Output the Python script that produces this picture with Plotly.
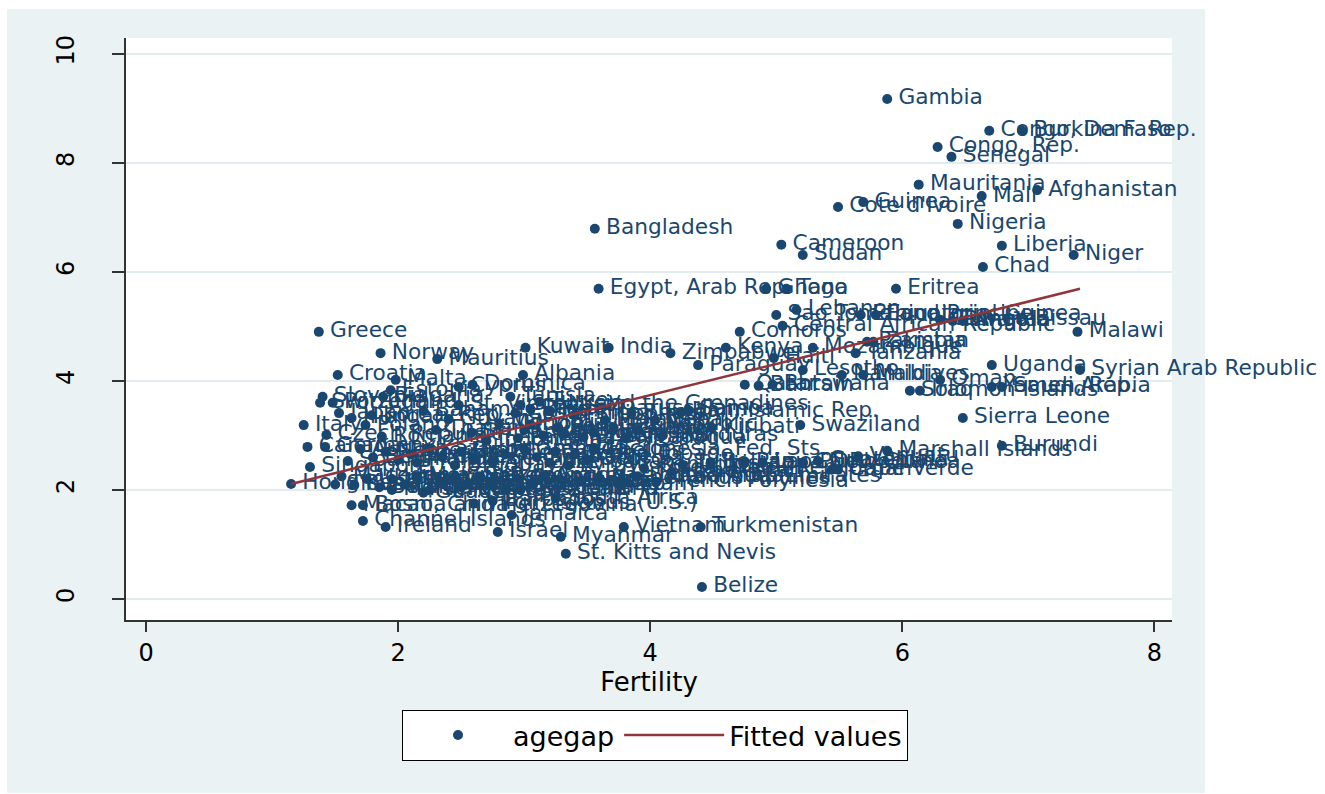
import plotly.graph_objects as go

# Countries: total fertility rate vs. spousal age gap (agegap)
countries = [
    "Gambia", "Congo, Dem. Rep.", "Burkina Faso", "Congo, Rep.", "Senegal",
    "Mauritania", "Mali", "Afghanistan", "Guinea", "Cote d'Ivoire",
    "Nigeria", "Bangladesh", "Cameroon", "Sudan", "Liberia",
    "Niger", "Chad", "Egypt, Arab Rep.", "Ghana", "Togo",
    "Eritrea", "Lebanon", "Sao Tome and Principe", "Ethiopia", "Equatorial Guinea",
    "Guinea-Bissau", "Rwanda", "Angola", "Central African Republic", "Comoros",
    "Malawi", "Greece", "Norway", "Mauritius", "Kuwait",
    "India", "Zimbabwe", "Kenya", "Mozambique", "Pakistan",
    "Zambia", "Tanzania", "Haiti", "Paraguay", "Lesotho",
    "Uganda", "Syrian Arab Republic", "Croatia", "Albania", "Malta",
    "Namibia", "Maldives", "Oman", "Qatar", "Bahrain",
    "Botswana", "Yemen, Rep.", "Saudi Arabia", "Solomon Islands", "Iraq",
    "Sierra Leone", "Swaziland", "Burundi", "Marshall Islands", "Vanuatu",
    "Papua New Guinea", "Lao PDR", "Cambodia", "Guatemala", "Jordan",
    "Cape Verde", "Uzbekistan", "Tajikistan", "Bolivia", "Kiribati",
    "Iran, Islamic Rep.", "Nepal", "Samoa", "Ecuador", "El Salvador",
    "Malaysia", "Bhutan", "Philippines", "Fiji", "Costa Rica",
    "Tunisia", "St. Lucia", "Turkey", "Brunei Darussalam", "Dominica",
    "Cyprus", "St. Vincent and the Grenadines", "Slovenia", "Switzerland", "Portugal",
    "Bulgaria", "Estonia", "Japan", "Hungary", "Korea, Rep.",
    "Guyana", "Bahamas, The", "Italy", "Czech Republic", "Poland",
    "Romania", "Thailand", "Sri Lanka", "Colombia", "Peru",
    "Venezuela, RB", "Panama", "Dominican Republic", "Morocco", "Algeria",
    "Mongolia", "Indonesia", "Libya", "Honduras", "Nicaragua",
    "Canada", "Germany", "Spain", "Austria", "Belgium",
    "Netherlands", "Finland", "Denmark", "France", "Kazakhstan",
    "Chile", "Argentina", "Brazil", "Uruguay", "Trinidad and Tobago",
    "Grenada", "Suriname", "Seychelles", "Tonga", "Micronesia, Fed. Sts.",
    "Armenia", "Azerbaijan", "Kyrgyz Republic", "Georgia", "Singapore",
    "Macedonia, FYR", "Russian Federation", "Ukraine", "Belarus", "Lithuania",
    "Latvia", "Moldova", "Serbia", "United Kingdom", "Sweden",
    "Iceland", "Luxembourg", "United States", "New Zealand", "Cuba",
    "Puerto Rico", "Antigua and Barbuda", "Aruba", "Mexico", "Netherlands Antilles",
    "Guam", "United Arab Emirates", "French Polynesia", "Korea, Dem. Rep.", "Hong Kong, China",
    "Slovak Republic", "Australia", "Barbados", "Martinique", "Guadeloupe",
    "New Caledonia", "Virgin Islands (U.S.)", "South Africa", "Macao, China", "Bosnia and Herzegovina",
    "Channel Islands", "Ireland", "Jamaica", "Israel", "Myanmar",
    "Vietnam", "Turkmenistan", "St. Kitts and Nevis", "Belize",
]

fertility = [
    5.88, 6.69, 6.95, 6.28, 6.39,
    6.13, 6.63, 7.07, 5.69, 5.49,
    6.44, 3.56, 5.04, 5.21, 6.79,
    7.36, 6.64, 3.59, 4.92, 5.08,
    5.95, 5.16, 5.00, 5.67, 5.79,
    6.30, 6.40, 6.48, 5.05, 4.71,
    7.39, 1.37, 1.86, 2.31, 3.01,
    3.67, 4.16, 4.60, 5.29, 5.72,
    5.77, 5.63, 4.98, 4.38, 5.21,
    6.71, 7.41, 1.52, 2.99, 1.98,
    5.52, 5.69, 6.30, 4.75, 4.86,
    4.97, 6.71, 6.79, 6.06, 6.14,
    6.48, 5.19, 6.79, 5.88, 5.65,
    4.75, 4.89, 5.21, 5.33, 5.44,
    5.49, 4.17, 4.26, 4.48, 4.49,
    4.24, 4.04, 4.30, 3.71, 3.47,
    3.64, 3.85, 3.40, 3.20, 2.93,
    2.89, 2.97, 3.12, 3.05, 2.59,
    2.48, 2.48, 1.40, 1.38, 1.48,
    1.88, 1.94, 1.53, 1.63, 1.79,
    2.40, 2.20, 1.25, 1.43, 1.74,
    1.87, 2.30, 2.58, 3.00, 3.27,
    3.15, 2.95, 3.05, 3.32, 3.55,
    2.80, 2.70, 3.90, 4.10, 3.80,
    1.28, 1.42, 1.60, 1.70, 1.80,
    1.90, 2.00, 2.10, 2.15, 2.25,
    2.35, 2.60, 2.50, 2.45, 2.85,
    3.00, 3.10, 3.25, 3.40, 3.55,
    2.75, 3.20, 3.35, 3.50, 1.30,
    1.55, 1.65, 1.75, 1.85, 1.95,
    2.05, 2.15, 2.25, 2.35, 2.45,
    2.55, 2.65, 2.75, 2.85, 2.95,
    3.05, 3.15, 3.45, 3.30, 3.60,
    3.75, 3.90, 4.05, 3.95, 1.15,
    1.50, 2.97, 2.75, 1.95, 2.20,
    2.50, 2.60, 3.25, 1.63, 1.72,
    1.72, 1.90, 2.90, 2.79, 3.29,
    3.79, 4.40, 3.33, 4.41,
]

agegap = [
    9.17, 8.59, 8.59, 8.29, 8.11,
    7.60, 7.39, 7.50, 7.28, 7.19,
    6.88, 6.79, 6.50, 6.31, 6.48,
    6.31, 6.09, 5.69, 5.69, 5.69,
    5.69, 5.30, 5.21, 5.21, 5.21,
    5.12, 5.10, 5.10, 5.01, 4.90,
    4.90, 4.90, 4.51, 4.40, 4.61,
    4.61, 4.51, 4.61, 4.61, 4.72,
    4.72, 4.51, 4.42, 4.29, 4.20,
    4.29, 4.20, 4.11, 4.11, 4.02,
    4.11, 4.11, 4.02, 3.93, 3.91,
    3.93, 3.89, 3.89, 3.82, 3.82,
    3.32, 3.19, 2.81, 2.72, 2.62,
    2.51, 2.50, 2.50, 2.53, 2.37,
    2.37, 2.33, 2.46, 2.51, 3.14,
    3.43, 3.28, 3.47, 3.14, 2.97,
    3.28, 3.40, 3.38, 3.45, 3.41,
    3.71, 3.56, 3.62, 3.48, 3.93,
    3.89, 3.56, 3.71, 3.60, 3.60,
    3.71, 3.83, 3.41, 3.32, 3.37,
    3.30, 3.45, 3.19, 3.01, 3.19,
    2.98, 3.10, 3.05, 3.10, 3.14,
    3.00, 2.95, 3.20, 3.03, 3.05,
    3.22, 2.90, 3.10, 3.00, 2.95,
    2.79, 2.79, 2.53, 2.75, 2.60,
    2.70, 2.55, 2.65, 2.50, 2.75,
    2.60, 2.55, 2.70, 2.45, 2.65,
    2.75, 2.60, 2.70, 2.65, 2.75,
    2.50, 2.50, 2.45, 2.55, 2.42,
    2.25, 2.10, 2.20, 2.05, 2.20,
    2.10, 2.25, 2.00, 2.15, 2.25,
    2.10, 2.25, 2.15, 2.00, 2.20,
    2.10, 2.25, 2.15, 2.18, 2.20,
    2.10, 2.25, 2.15, 2.40, 2.11,
    2.10, 2.00, 1.80, 2.00, 1.95,
    2.05, 1.75, 1.85, 1.72, 1.72,
    1.43, 1.32, 1.54, 1.23, 1.14,
    1.32, 1.32, 0.83, 0.22,
]

# Linear fit of agegap on fertility, evaluated at the ends of the data range
fit_fertility = [1.15, 7.41]
fit_agegap = [2.11, 5.69]

x_ticks = [0, 2, 4, 6, 8]
y_ticks = [0, 2, 4, 6, 8, 10]

NAVY = "#1a476f"
MAROON = "#90353b"
GRAPH_BG = "#eaf2f3"
GRID = "#e2ebed"
AXIS = "#333333"
FONT = "DejaVu Sans"

W, H = 1325, 794
ML, MR, MT, MB = 126, 153, 38, 174
PW, PH = W - ML - MR, H - MT - MB


def px_x(p):
    return (p - ML) / PW


def px_y(p):
    return (H - MB - p) / PH


fig = go.Figure()

fig.add_trace(go.Scatter(
    x=fertility, y=agegap, mode="markers", name="agegap",
    marker=dict(size=10, color=NAVY, line=dict(width=0)),
    cliponaxis=False, hoverinfo="skip",
))

# marker labels, set a little to the right of each point
fig.add_trace(go.Scatter(
    x=fertility, y=agegap, mode="text", showlegend=False,
    text=["\u00a0\u2009" + c for c in countries], textposition="middle right",
    textfont=dict(family=FONT, size=21.7, color=NAVY),
    cliponaxis=False, hoverinfo="skip",
))

fig.add_trace(go.Scatter(
    x=fit_fertility, y=fit_agegap, mode="lines", name="Fitted values",
    line=dict(color=MAROON, width=2.5), cliponaxis=False, hoverinfo="skip",
))

# white page around the graph region
strips = [
    (px_x(1205), px_x(W) + 0.02, px_y(H) - 0.02, px_y(0) + 0.02),
    (px_x(0) - 0.02, px_x(W) + 0.02, px_y(9), px_y(0) + 0.02),
    (px_x(0) - 0.02, px_x(7), px_y(H) - 0.02, px_y(0) + 0.02),
    (px_x(0) - 0.02, px_x(W) + 0.02, px_y(H) - 0.02, px_y(793)),
]
shapes = [
    dict(type="rect", xref="paper", yref="paper", x0=a, x1=b, y0=c, y1=d,
         fillcolor="white", line=dict(width=0), layer="below")
    for a, b, c, d in strips
]

fig.update_layout(
    width=W, height=H, autosize=False,
    margin=dict(l=ML, r=MR, t=MT, b=MB, pad=0),
    paper_bgcolor=GRAPH_BG, plot_bgcolor="white",
    font=dict(family=FONT, color="black"),
    shapes=shapes,
    showlegend=True,
    legend=dict(
        orientation="h", x=px_x(655), xanchor="center",
        y=px_y(710), yanchor="top",
        bgcolor="white", bordercolor="black", borderwidth=1,
        font=dict(family=FONT, size=27, color="black"),
        itemwidth=100, traceorder="normal",
    ),
)

fig.update_xaxes(
    range=[-0.16, 8.14], tickvals=x_ticks, ticks="outside", ticklen=10,
    tickwidth=1.5, tickcolor=AXIS, showline=True, linecolor=AXIS, linewidth=2,
    showgrid=False, zeroline=False, tickfont=dict(family=FONT, size=24, color="black"),
    ticklabelstandoff=0,
    title=dict(text="Fertility", font=dict(family=FONT, size=26, color="black"), standoff=2),
)

fig.update_yaxes(
    range=[-0.385, 10.29], tickvals=y_ticks, ticks="outside", ticklen=12,
    tickwidth=1.5, tickcolor=AXIS, showline=True, linecolor=AXIS, linewidth=2,
    showgrid=True, gridcolor=GRID, gridwidth=2, zeroline=False,
    tickangle=-90, tickfont=dict(family=FONT, size=24, color="black"),
    ticklabelstandoff=28,
)

fig.write_html("out.html")
